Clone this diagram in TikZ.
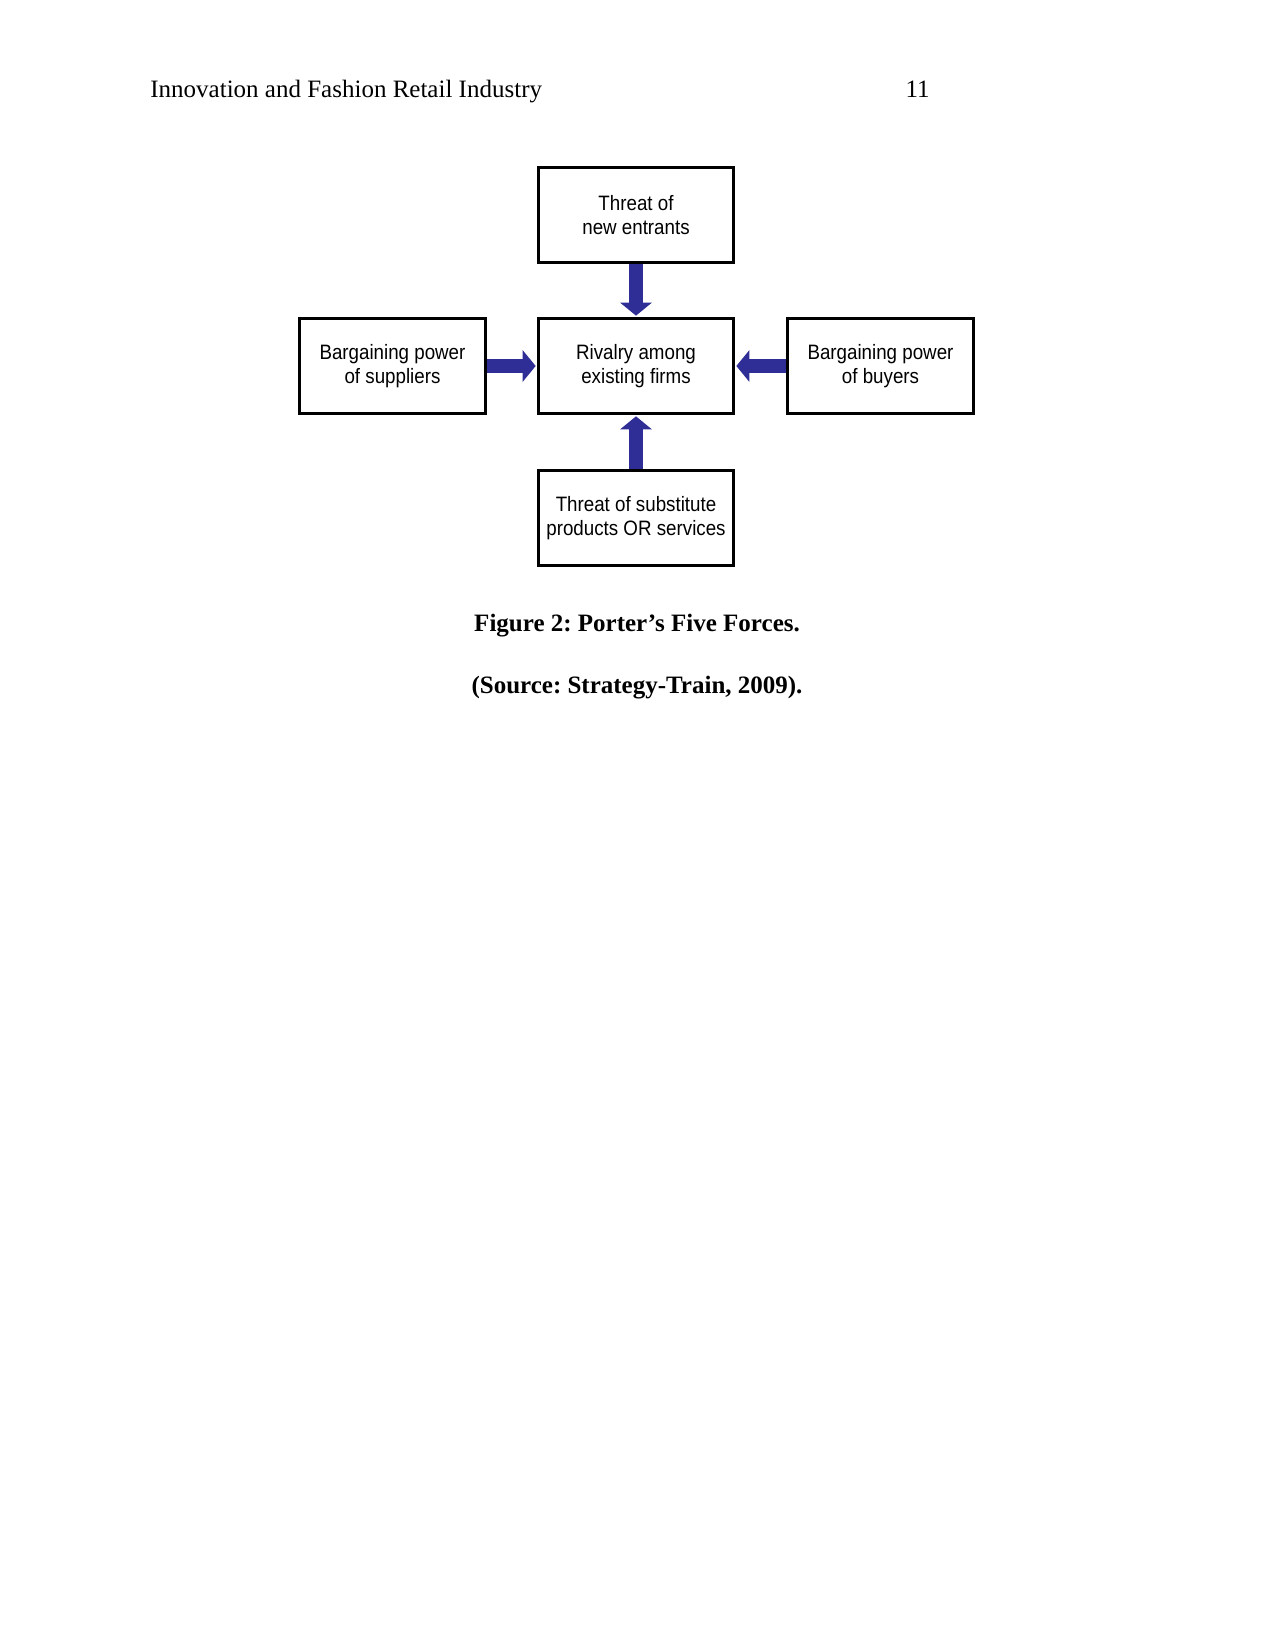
\documentclass[tikz,border=0pt]{standalone}
\usepackage{fontspec}
\setmainfont{Liberation Serif}
\newfontfamily\boxfont[FakeStretch=0.9]{Liberation Sans}
\usetikzlibrary{arrows.meta}
\definecolor{forceblue}{RGB}{46,46,150}

\begin{document}
\frenchspacing
\begin{tikzpicture}[x=0.48pt, y=-0.48pt, line join=miter,
	forcebox/.style={draw, line width=1.4pt, align=center, inner sep=2pt,
		font=\boxfont\fontsize{10}{11.5}\selectfont},
	midbox/.style={forcebox, minimum width=93.5pt, minimum height=45.5pt},
	sidebox/.style={forcebox, minimum width=89pt, minimum height=46pt},
	force/.style={forceblue, line width=6.8pt,
		-{Triangle[width=15pt,length=6.3pt]}, shorten >=0.7pt}]
	% page
	\useasboundingbox (0,0) rectangle (1275,1651);
	\fill[white] (0,0) rectangle (1275,1651);
	% header
	\node[anchor=base west, inner sep=0pt, font=\fontsize{12}{14}\selectfont] (head) at (150,98) {Innovation and Fashion Retail Industry};
	\node[anchor=base east, inner sep=0pt, font=\fontsize{12}{14}\selectfont] (pagenum) at (930,98) {11};
	% the five forces
	\node[midbox] (rivalry) at (636,366) {Rivalry among\\existing firms};
	\node[midbox] (entrants) at (636,215) {Threat of\\new entrants};
	\node[midbox] (substitutes) at (636,518) {Threat of substitute\\products OR services};
	\node[sidebox] (suppliers) at (392.5,366) {Bargaining power\\of suppliers};
	\node[sidebox] (buyers) at (880.5,366) {Bargaining power\\of buyers};
	% arrows into the middle
	\foreach \f in {entrants, substitutes, suppliers, buyers}
	\draw[force] (\f) -- (rivalry);
	% caption
	\node[anchor=base, inner sep=0pt, font=\bfseries\fontsize{12}{14}\selectfont] (caption) at (637,631) {Figure 2: Porter’s Five Forces.};
	\node[anchor=base, inner sep=0pt, font=\bfseries\fontsize{12}{14}\selectfont] (source) at (637,693) {(Source: Strategy-Train, 2009).};
\end{tikzpicture}
\end{document}
